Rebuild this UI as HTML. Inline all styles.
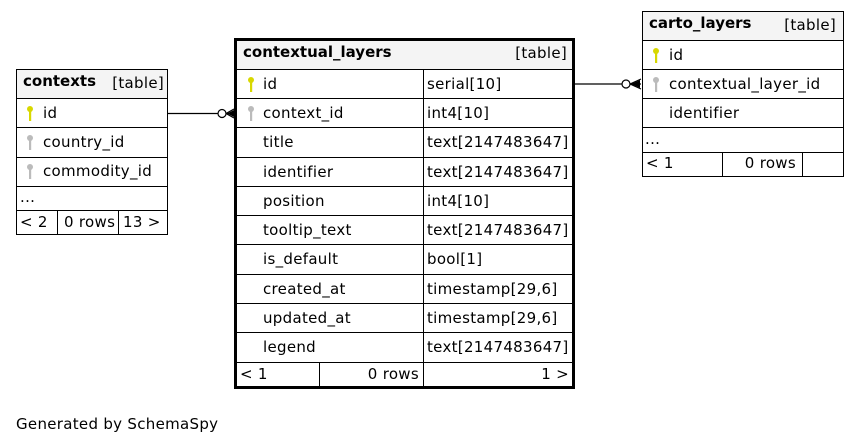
<!DOCTYPE html>
<html><head><style>html,body{margin:0;padding:0;background:#fff}svg{display:block}text{font-family:"DejaVu Sans","Liberation Sans",sans-serif;font-size:15px;fill:#000;letter-spacing:0.3px}.b{font-weight:bold;letter-spacing:0}.e{text-anchor:end}</style></head><body>
<svg width="859" height="444" viewBox="0 0 859 444" xmlns="http://www.w3.org/2000/svg">
<defs>
<g id="ky"><circle cx="0" cy="-4" r="3" fill="#d8d800"/><rect x="-1" y="-2" width="2.2" height="10" fill="#d8d800"/></g>
<g id="kg"><circle cx="0" cy="-4" r="3" fill="#bbb"/><rect x="-1" y="-2" width="2.2" height="10" fill="#bbb"/></g>
</defs>
<!-- contexts -->
<g stroke="#000" stroke-width="1" fill="none">
<rect x="16.5" y="69.5" width="151" height="165" fill="#fff"/>
<rect x="16.5" y="69.5" width="151" height="29" fill="#f4f4f4"/>
<line x1="16" y1="98.5" x2="167" y2="98.5"/><line x1="16" y1="127.5" x2="167" y2="127.5"/><line x1="16" y1="157.5" x2="167" y2="157.5"/><line x1="16" y1="186.5" x2="167" y2="186.5"/><line x1="16" y1="210.5" x2="167" y2="210.5"/>
<line x1="57.5" y1="210" x2="57.5" y2="234"/><line x1="118.5" y1="210" x2="118.5" y2="234"/>
</g>
<text x="23" y="86" class="b">contexts</text><text x="164" y="88" class="e">[table]</text>
<use href="#ky" x="30" y="113"/><text x="43" y="118">id</text>
<use href="#kg" x="30" y="142"/><text x="43" y="147">country_id</text>
<use href="#kg" x="30" y="171"/><text x="43" y="176">commodity_id</text>
<text x="20" y="202">...</text>
<text x="20" y="227">&lt; 2</text><text x="64" y="227">0 rows</text><text x="123" y="227">13 &gt;</text>

<!-- contextual_layers -->
<g stroke="#000" fill="none">
<rect x="235.5" y="39.5" width="338" height="348" stroke-width="3" fill="#fff"/>
<rect x="237" y="41" width="335" height="28" fill="#f4f4f4" stroke="none"/>
<g stroke-width="1">
<line x1="236" y1="69.5" x2="573" y2="69.5"/>
<line x1="236" y1="98.5" x2="573" y2="98.5"/>
<line x1="236" y1="127.5" x2="573" y2="127.5"/>
<line x1="236" y1="157.5" x2="573" y2="157.5"/>
<line x1="236" y1="186.5" x2="573" y2="186.5"/>
<line x1="236" y1="215.5" x2="573" y2="215.5"/>
<line x1="236" y1="244.5" x2="573" y2="244.5"/>
<line x1="236" y1="274.5" x2="573" y2="274.5"/>
<line x1="236" y1="303.5" x2="573" y2="303.5"/>
<line x1="236" y1="332.5" x2="573" y2="332.5"/>
<line x1="236" y1="362.5" x2="573" y2="362.5"/>
<line x1="423.5" y1="69" x2="423.5" y2="387"/>
<line x1="319.5" y1="362" x2="319.5" y2="387"/>
</g></g>
<text x="243" y="57" class="b">contextual_layers</text><text x="567" y="58" class="e">[table]</text>
<use href="#ky" x="251" y="84"/><text x="263" y="89">id</text><text x="427" y="89">serial[10]</text>
<use href="#kg" x="251" y="113"/><text x="263" y="118">context_id</text><text x="427" y="118">int4[10]</text>
<text x="263" y="147">title</text><text x="427" y="147">text[2147483647]</text>
<text x="263" y="177">identifier</text><text x="427" y="177">text[2147483647]</text>
<text x="263" y="206">position</text><text x="427" y="206">int4[10]</text>
<text x="263" y="235">tooltip_text</text><text x="427" y="235">text[2147483647]</text>
<text x="263" y="264">is_default</text><text x="427" y="264">bool[1]</text>
<text x="263" y="294">created_at</text><text x="427" y="294">timestamp[29,6]</text>
<text x="263" y="323">updated_at</text><text x="427" y="323">timestamp[29,6]</text>
<text x="263" y="352">legend</text><text x="427" y="352">text[2147483647]</text>
<text x="240" y="379">&lt; 1</text><text x="419" y="379" class="e">0 rows</text><text x="569" y="379" class="e">1 &gt;</text>

<!-- carto_layers -->
<g stroke="#000" stroke-width="1" fill="none">
<rect x="642.5" y="11.5" width="201" height="165" fill="#fff"/>
<rect x="642.5" y="11.5" width="201" height="29" fill="#f4f4f4"/>
<line x1="642" y1="69.5" x2="843" y2="69.5"/><line x1="642" y1="98.5" x2="843" y2="98.5"/><line x1="642" y1="127.5" x2="843" y2="127.5"/><line x1="642" y1="152.5" x2="843" y2="152.5"/>
<line x1="722.5" y1="152" x2="722.5" y2="176"/><line x1="802.5" y1="152" x2="802.5" y2="176"/>
</g>
<text x="649" y="28" class="b">carto_layers</text><text x="836" y="30" class="e">[table]</text>
<use href="#ky" x="656" y="55"/><text x="669" y="60">id</text>
<use href="#kg" x="656" y="84"/><text x="669" y="89">contextual_layer_id</text>
<text x="669" y="118">identifier</text>
<text x="645" y="144">...</text>
<text x="646" y="168">&lt; 1</text><text x="796" y="168" class="e">0 rows</text>

<!-- connectors -->
<g stroke="#000" stroke-width="1.2" fill="none">
<line x1="168" y1="113.5" x2="218" y2="113.5"/>
<circle cx="222" cy="113.5" r="4" fill="#fff"/>
<path d="M226 113.5 L234 109 M226 113.5 L234 118 M226 113.5 L234 113.5"/>
<line x1="575" y1="84" x2="622" y2="84"/>
<circle cx="626" cy="84" r="4" fill="#fff"/>
<path d="M630 84 L641 79 M630 84 L641 89 M630 84 L641 84"/>
</g>
<polygon points="227,113.5 234,110 234,117" fill="#000"/>
<polygon points="631,84 640,80 640,88" fill="#000"/>

<text x="16" y="429">Generated by SchemaSpy</text>
</svg>
</body></html>
